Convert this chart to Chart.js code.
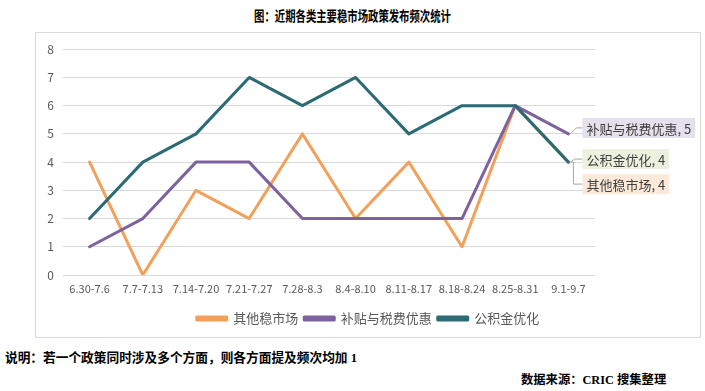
<!DOCTYPE html>
<html>
<head>
<meta charset="utf-8">
<script src="https://cdn.jsdelivr.net/npm/chart.js@4.4.0/dist/chart.umd.min.js"></script>
<style>
  body { margin: 0; width: 705px; height: 391px; background: #fff; position: relative; overflow: hidden; font-family: "Noto Sans CJK SC", sans-serif; }
  #title { position: absolute; top: 4px; left: 0; width: 705px; text-align: center; font-weight: bold; font-size: 14px; color: #000; transform: scaleX(0.74); line-height: 22px; }
  #box { position: absolute; left: 35px; top: 32px; width: 664px; height: 304px; border: 1px solid #d9d9d9; }
  #note { position: absolute; left: 5px; top: 347px; font-weight: bold; font-size: 12.7px; font-family: "Liberation Serif", "Noto Sans CJK SC", serif; color: #000; }
  #src { position: absolute; left: 521px; top: 370px; font-weight: bold; font-size: 12.3px; font-family: "Liberation Serif", "Noto Sans CJK SC", serif; color: #000; }
</style>
</head>
<body>
<div id="title">图：近期各类主要稳市场政策发布频次统计</div>
<div id="box"><canvas id="graphPolicy" width="664" height="304"></canvas></div>
<div id="note">说明：若一个政策同时涉及多个方面，则各方面提及频次均加 1</div>
<div id="src">数据来源：CRIC 搜集整理</div>
<script>
// categorías (semanas)
const labelsWeek = ['6.30-7.6', '7.7-7.13', '7.14-7.20', '7.21-7.27', '7.28-8.3', '8.4-8.10', '8.11-8.17', '8.18-8.24', '8.25-8.31', '9.1-9.7'];
const seriesNames = ['其他稳市场', '补贴与税费优惠', '公积金优化'];
const dataOther = [4, 0, 3, 2, 5, 2, 4, 1, 6, 4];
const dataSubsidy = [1, 2, 4, 4, 2, 2, 2, 2, 6, 5];
const dataFund = [2, 4, 5, 7, 6, 7, 5, 6, 6, 4];
const yTicks = [0, 1, 2, 3, 4, 5, 6, 7, 8];

const lineColors = ['#f2a05a', '#7e62a0', '#2b6b74'];
const labelBg = ['#fde9d9', '#e4e0ec', '#ebf1de'];

// etiquetas del último punto con línea guía
const endLabels = {
    id: 'endLabels',
    afterDatasetsDraw(chart) {
        const ctx = chart.ctx;
        const place = [
            { dy: 22, elbow: 'down' },   // 其他稳市场
            { dy: -6, elbow: 'diag' },   // 补贴与税费优惠
            { dy: -3, elbow: 'flat' }    // 公积金优化
        ];
        ctx.save();
        ctx.font = '13px "Noto Sans CJK SC"';
        chart.data.datasets.forEach(function(ds, i) {
            const meta = chart.getDatasetMeta(i);
            const pt = meta.data[meta.data.length - 1];
            const val = ds.data[ds.data.length - 1];
            const text = ds.label + ', ' + val;
            const bx = pt.x + 14;
            const cy = pt.y + place[i].dy;
            const w = ctx.measureText(text).width + 8;
            const h = 20;
            // línea guía
            ctx.strokeStyle = '#a6a6a6';
            ctx.lineWidth = 1;
            ctx.beginPath();
            ctx.moveTo(pt.x + 2, pt.y);
            if (place[i].elbow === 'down') {
                ctx.lineTo(pt.x + 5, pt.y);
                ctx.lineTo(pt.x + 5, cy);
            } else if (place[i].elbow === 'diag') {
                ctx.lineTo(pt.x + 8, cy);
            } else {
                ctx.lineTo(pt.x + 6, cy);
            }
            ctx.lineTo(bx, cy);
            ctx.stroke();
            ctx.fillStyle = labelBg[i];
            ctx.fillRect(bx, cy - h / 2, w, h);
            ctx.fillStyle = '#404040';
            ctx.textBaseline = 'middle';
            ctx.textAlign = 'left';
            ctx.fillText(text, bx + 4, cy + 1);
        });
        ctx.restore();
    }
};

const graphPolicy = document.querySelector('#graphPolicy');
const dataPolicy = {
    labels: labelsWeek,
    datasets: [
        { label: seriesNames[0], data: dataOther, borderColor: lineColors[0], backgroundColor: lineColors[0], order: 3 },
        { label: seriesNames[1], data: dataSubsidy, borderColor: lineColors[1], backgroundColor: lineColors[1], order: 2 },
        { label: seriesNames[2], data: dataFund, borderColor: lineColors[2], backgroundColor: lineColors[2], order: 1 }
    ]
};

const configPolicy = {
    type: 'line',
    data: dataPolicy,
    plugins: [endLabels],
    options: {
        responsive: false,
        animation: false,
        layout: { padding: { top: 15, left: 0, right: 0, bottom: 2 } },
        elements: {
            line: { borderWidth: 3, tension: 0, borderCapStyle: 'round', borderJoinStyle: 'round' },
            point: { radius: 0, hoverRadius: 0 }
        },
        scales: {
            x: {
                offset: true,
                grid: { display: false, drawTicks: false, offset: true },
                border: { display: false },
                ticks: { color: '#595959', font: { size: 11, family: '"Noto Sans CJK SC"' }, maxRotation: 0, autoSkip: false, padding: 7 },
                afterFit: function(s) { s.height = 31; }
            },
            y: {
                min: 0, max: 8,
                afterBuildTicks: function(s) { s.ticks = yTicks.map(function(v) { return { value: v }; }); },
                grid: { color: '#d9d9d9', drawTicks: false },
                border: { display: false },
                ticks: { color: '#595959', font: { size: 12, family: '"Noto Sans CJK SC"' }, padding: 9 },
                afterFit: function(s) { s.width = 27; }
            },
            yRight: {
                position: 'right',
                display: true,
                grid: { display: false, drawTicks: false },
                border: { display: false },
                ticks: { display: false },
                afterFit: function(s) { s.width = 105; }
            }
        },
        plugins: {
            legend: {
                position: 'bottom',
                labels: {
                    color: '#595959',
                    font: { size: 13, family: '"Noto Sans CJK SC"' },
                    boxWidth: 30,
                    boxHeight: 3,
                    padding: 6,
                    sort: function(a, b) { return a.datasetIndex - b.datasetIndex; }
                }
            },
            tooltip: { enabled: false }
        }
    }
};

new Chart(graphPolicy, configPolicy);
</script>
</body>
</html>
